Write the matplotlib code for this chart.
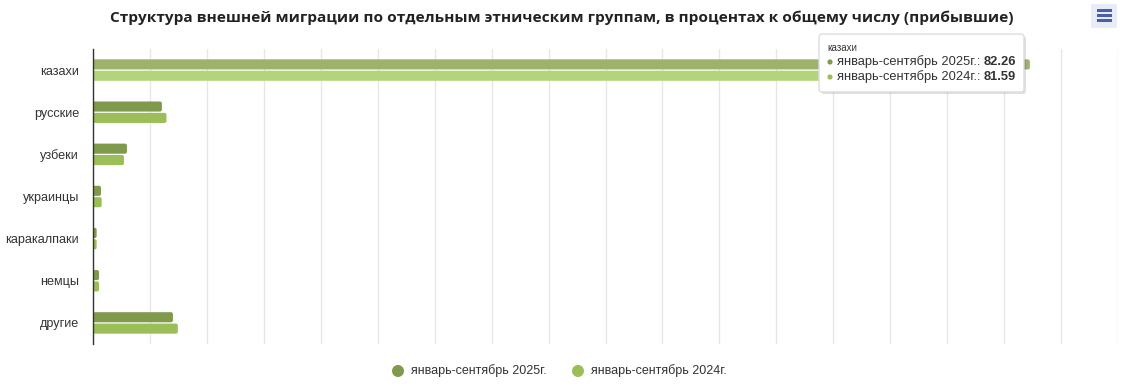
import matplotlib.pyplot as plt
from matplotlib.patches import FancyBboxPatch, Rectangle, Circle
from matplotlib.transforms import IdentityTransform
import numpy as np

categories = ["казахи", "русские", "узбеки", "украинцы", "каракалпаки", "немцы", "другие"]
values_2025 = [82.26, 6.05, 2.98, 0.70, 0.32, 0.53, 7.02]
values_2024 = [81.59, 6.45, 2.72, 0.76, 0.32, 0.53, 7.45]
series_names = ["январь-сентябрь 2025г.", "январь-сентябрь 2024г."]
title = "Структура внешней миграции по отдельным этническим группам, в процентах к общему числу (прибывшие)"

col_2025 = "#7f9a4c"
col_2024 = "#9bbe59"
# hovered category (tooltip shown) is drawn brighter
hover_2025 = "#9db36c"
hover_2024 = "#b4d47b"

plt.rcParams["font.family"] = ["Liberation Sans", "DejaVu Sans"]

W, H = 1146, 389
px = IdentityTransform()
fig = plt.figure(figsize=(W / 100, H / 100), dpi=100)
ax_l, ax_r, ax_t, ax_b = 93, 1118, 49, 344
ax = fig.add_axes([ax_l / W, (H - ax_b) / H, (ax_r - ax_l) / W, (ax_b - ax_t) / H])

xmax = 90
y = np.arange(len(categories))
h = 0.24
c25 = [hover_2025 if i == 0 else col_2025 for i in range(len(categories))]
c24 = [hover_2024 if i == 0 else col_2024 for i in range(len(categories))]
bars = list(ax.barh(y - h / 2 - 0.015, values_2025, height=h, color=c25, zorder=3))
bars += list(ax.barh(y + h / 2 + 0.015, values_2024, height=h, color=c24, zorder=3))

# rounded bar corners like the original (about 2 px radius)
x_px = (ax_r - ax_l) / xmax
y_px = (ax_b - ax_t) / len(categories)
r = 2 / x_px
for b in bars:
    b.set_visible(False)
    ax.add_patch(FancyBboxPatch((b.get_x(), b.get_y()), b.get_width(), b.get_height(),
                                boxstyle=f"round,pad=0,rounding_size={min(r, b.get_width() / 2)}",
                                mutation_aspect=x_px / y_px, facecolor=b.get_facecolor(),
                                edgecolor="none", zorder=3))

ax.set_xlim(0, xmax)
ax.set_ylim(len(categories) - 0.5, -0.5)
ax.set_xticks(np.arange(0, xmax + 1, 5))
ax.set_xticklabels([])
ax.tick_params(axis="x", length=0)
ax.tick_params(axis="y", length=0, labelsize=9.1, labelcolor="#333333", pad=10)
ax.set_yticks(y)
ax.set_yticklabels(categories)
ax.grid(axis="x", color="#e6e6e6", linewidth=1, zorder=0)
for s in ["top", "right", "bottom"]:
    ax.spines[s].set_visible(False)
ax.spines["left"].set_color("#333333")
ax.spines["left"].set_linewidth(1)
ax.spines["left"].set_zorder(4)

fig.text(561.5 / W, 1 - 18 / H, title, ha="center", va="center", fontsize=11.1,
         fontweight="bold", family=["Open Sans", "DejaVu Sans"], color="#222222")

# legend
for lx, col, name in [(398, col_2025, series_names[0]), (578, col_2024, series_names[1])]:
    fig.add_artist(Circle((lx, H - 371), 6, transform=px, facecolor=col, edgecolor="none"))
    fig.text((lx + 13) / W, 1 - 371 / H, name, color="#333333", fontsize=9, ha="left", va="center")

# tooltip
tx0, ty0, tx1, ty1 = 819, 34, 1024, 92
fig.add_artist(FancyBboxPatch((tx0 + 2, H - ty1 - 2), tx1 - tx0, ty1 - ty0,
                              boxstyle="round,pad=0,rounding_size=3", transform=px,
                              facecolor="#000000", alpha=0.12, edgecolor="none", zorder=9))
fig.add_artist(FancyBboxPatch((tx0, H - ty1), tx1 - tx0, ty1 - ty0,
                              boxstyle="round,pad=0,rounding_size=3", transform=px,
                              facecolor="white", edgecolor="#dddddd", linewidth=1, zorder=10))
fig.text((tx0 + 8) / W, 1 - 48 / H, categories[0], fontsize=7, color="#333333", va="center", zorder=11)
for ly, col, name, val in [(62, col_2025, series_names[0], values_2025[0]),
                           (77, col_2024, series_names[1], values_2024[0])]:
    fig.add_artist(Circle((tx0 + 11, H - ly), 2.6, transform=px, facecolor=col,
                          edgecolor="none", zorder=11))
    t = fig.text((tx0 + 18) / W, 1 - ly / H, name + ": ", fontsize=9.3, color="#333333",
                 va="center", zorder=11)
    fig.add_artist(plt.Annotation(f"{val:.2f}", xy=(1, 0.5), xycoords=t, va="center", ha="left",
                                  fontsize=9.3, fontweight="bold", color="#333333", zorder=11))

# context menu icon
fig.add_artist(FancyBboxPatch((1091, H - 28), 26, 24, boxstyle="round,pad=0,rounding_size=2",
                              transform=px, facecolor="#e6ebf5", edgecolor="none"))
for my in [10, 15, 20]:
    fig.add_artist(Rectangle((1097, H - my - 1.5), 15, 2.6, transform=px,
                             facecolor="#4a5fa8", edgecolor="none"))

fig.savefig("out.png", dpi=100)
